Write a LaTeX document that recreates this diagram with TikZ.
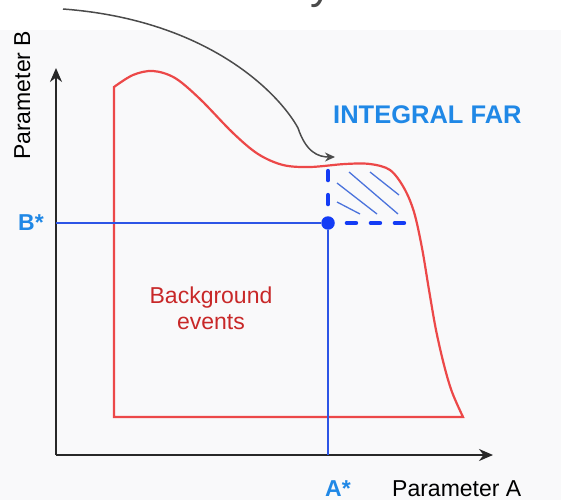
\documentclass[tikz,border=0pt]{standalone}
\usepackage{fontspec}
\setmainfont{Liberation Sans}
\usetikzlibrary{arrows.meta, positioning, calc}
\definecolor{curvered}{RGB}{236,72,72}
\definecolor{textred}{RGB}{200,40,40}
\definecolor{lineblue}{RGB}{45,85,230}
\definecolor{dashblue}{RGB}{20,60,245}
\definecolor{labelblue}{RGB}{32,136,230}
\definecolor{hatchblue}{RGB}{75,115,220}
\definecolor{axisgray}{RGB}{40,40,40}
\definecolor{arrowgray}{RGB}{75,75,75}
\definecolor{bggray}{RGB}{249,249,250}

\begin{document}
\begin{tikzpicture}[x=1pt,y=-1pt,
  axis/.style={axisgray,line width=2pt,-{Stealth[length=14pt,width=12pt]}},
  curve/.style={curvered,line width=2.2pt,line join=miter},
  guide/.style={lineblue,line width=2pt},
  bound/.style={dashblue,line width=4.5pt,line cap=round,dash pattern=on 9pt off 15pt,dash phase=12pt},
  hatch/.style={hatchblue,line width=1.3pt},
  dot/.style={circle,fill=dashblue,inner sep=0pt,minimum size=13.5pt},
  pointer/.style={arrowgray,line width=1.5pt,-{Stealth[length=10pt,width=9pt]}},
  lbl/.style={inner sep=0pt,font=\fontsize{23}{26}\selectfont},
  star/.style={lbl,labelblue,font=\fontsize{23}{26}\selectfont\bfseries}]
  \fill[white] (0,0) rectangle (561,500);
  \fill[bggray] (0,30) rectangle (561,500);
  \useasboundingbox (0,0) rectangle (561,500);
  \begin{scope}
    \clip (0,0) rectangle (561,500);
    \node[lbl,anchor=base west,arrowgray,font=\fontsize{44}{44}\selectfont] (title) at (310,-1) {y};
  \end{scope}
  \coordinate (O) at (56,455);
  \coordinate (ytip) at (56,68);
  \coordinate (xtip) at (493,455);
  \draw[axis] (O) -- (ytip);
  \draw[axis] (O) -- (xtip);
  \draw[curve] (114,417) -- plot[smooth,tension=0.55] coordinates {(114,87) (133,75) (153,71) (175,78) (200,99) (233,133) (258,154) (283,165) (310,167) (345,164) (370,164) (390,170) (404,188) (414,212) (422,248) (429,290) (436,330) (444,365) (452,392) (463,417)} -- cycle;
  \node[dot] (pt) at (328,223) {};
  \coordinate (bax) at (O |- pt);
  \coordinate (aax) at (pt |- O);
  \coordinate (dtop) at (328,168);
  \coordinate (dright) at (407,223);
  \draw[guide] (bax) -- (pt);
  \draw[guide] (pt) -- (aax);
  \draw[bound] (pt) -- (dtop);
  \draw[bound] (pt) -- (dright);
  \foreach \xa/\ya/\xb/\yb in {370/172/399/195, 349/172/398/214, 337/183/377/214, 337/202/360/214}
    \draw[hatch] (\xa,\ya) -- (\xb,\yb);
  \node[star,anchor=base west] (bstar) at (18,230) {B*};
  \node[star,anchor=base west] (astar) at (325,496) {A*};
  \node[lbl,anchor=base west] (parA) at (392,496) {Parameter A};
  \node[lbl,anchor=base west,rotate=90] (parB) at (30,160) {Parameter B};
  \node[lbl,textred,align=center] (bkg) at (211,308) {Background\\events};
  \node[star,anchor=base west,font=\fontsize{25.5}{28}\selectfont\bfseries] (far) at (333,123) {INTEGRAL FAR};
  \coordinate (pstart) at (63,9);
  \coordinate (ptip) at (335,157);
  \draw[pointer] (pstart) .. controls (210,20) and (280,95) .. (298,128) .. controls (306,152) and (318,157) .. (ptip);
\end{tikzpicture}
\end{document}
